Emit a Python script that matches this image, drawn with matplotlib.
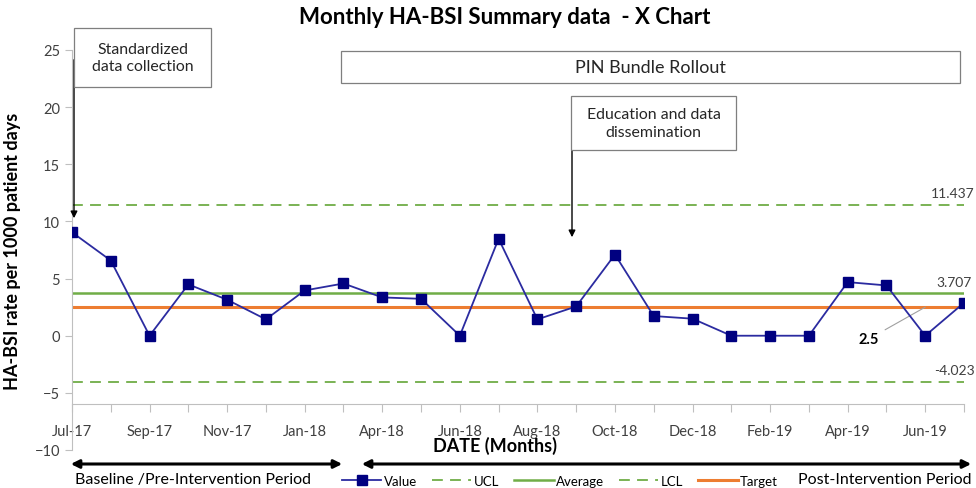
import matplotlib
matplotlib.use("Agg")
import matplotlib.pyplot as plt
import matplotlib.transforms as mtransforms
from matplotlib.patches import Rectangle, FancyArrowPatch

plt.rcParams['font.family'] = ['Lato', 'DejaVu Sans']

# data
months = ['Jul-17', 'Aug-17', 'Sep-17', 'Oct-17', 'Nov-17', 'Dec-17', 'Jan-18', 'Feb-18',
          'Apr-18', 'May-18', 'Jun-18', 'Jul-18', 'Aug-18', 'Sep-18', 'Oct-18', 'Nov-18',
          'Dec-18', 'Jan-19', 'Feb-19', 'Mar-19', 'Apr-19', 'May-19', 'Jun-19', 'Jul-19']
values = [9.05, 6.58, 0.0, 4.49, 3.15, 1.43, 3.96, 4.57,
          3.35, 3.23, 0.0, 8.48, 1.43, 2.56, 7.1, 1.72,
          1.49, 0.0, 0.0, 0.0, 4.69, 4.4, 0.0, 2.88]
ucl = 11.437
average = 3.707
lcl = -4.023
target = 2.5

W, H = 976, 489
fig = plt.figure(figsize=(W / 100, H / 100), dpi=100)

def fx(x):
    return x / W

def fy(y):
    return 1 - y / H

ax = fig.add_axes([fx(72), fy(451), fx(964) - fx(72), fy(51) - fy(451)])

x = list(range(len(months)))
green = '#70AD47'
orange = '#ED7D31'

ax.plot(x, [ucl] * len(x), color=green, lw=1.3, ls=(0, (6, 4)), label='UCL')
ax.plot(x, [average] * len(x), color=green, lw=1.8, label='Average')
ax.plot(x, [lcl] * len(x), color=green, lw=1.3, ls=(0, (6, 4)), label='LCL')
ax.plot(x, [target] * len(x), color=orange, lw=2.2, label='Target')
ax.plot(x, values, color='#2B2BA0', lw=1.3, marker='s', ms=7.5,
        mfc='#000080', mec='#000080', label='Value', zorder=5)

ax.set_xlim(0, len(months) - 1)
ax.set_ylim(-10, 25)
ax.set_yticks(range(-10, 26, 5))
ax.set_xticks(x)
ax.set_xticklabels([m if i % 2 == 0 else '' for i, m in enumerate(months)])

for s in ['top', 'right']:
    ax.spines[s].set_visible(False)
ax.spines['bottom'].set_position(('data', -6))
ax.spines['bottom'].set_color('#BFBFBF')
ax.spines['left'].set_color('#BFBFBF')
ax.tick_params(axis='x', colors='#BFBFBF', labelcolor='#404040', length=6, pad=8, labelsize=10.5)
ax.tick_params(axis='y', colors='#BFBFBF', labelcolor='#404040', length=5, labelsize=10.5)
ax.set_ylabel('HA-BSI rate per 1000 patient days', fontsize=13, fontweight='bold', labelpad=10)

# line value labels, right edge near the figure edge
tr = mtransforms.blended_transform_factory(fig.transFigure, ax.transData)
ax.text(fx(974), ucl + 0.5, '11.437', ha='right', va='bottom', fontsize=10, color='#404040', transform=tr)
ax.text(fx(972), average + 0.5, '3.707', ha='right', va='bottom', fontsize=10, color='#404040', transform=tr)
ax.text(fx(975), lcl + 0.5, '-4.023', ha='right', va='bottom', fontsize=10, color='#404040', transform=tr)
ax.annotate('2.5', xy=(22.0, target), xytext=(20.8, -0.3), fontsize=10.5, fontweight='bold',
            ha='right', va='center',
            arrowprops=dict(arrowstyle='-', color='#A0A0A0', lw=0.8, shrinkA=3, shrinkB=0))

fig.text(fx(505), fy(18), 'Monthly HA-BSI Summary data  - X Chart', ha='center', va='center',
         fontsize=16, fontweight='bold')
fig.text(fx(495), fy(446), 'DATE (Months)', ha='center', va='center', fontsize=13, fontweight='bold')

# boxes
def box(x0, y0, x1, y1, txt, size):
    fig.patches.append(Rectangle((fx(x0), fy(y1)), fx(x1) - fx(x0), fy(y0) - fy(y1),
                                 transform=fig.transFigure, fill=True, fc='white',
                                 ec='#7F7F7F', lw=0.9, zorder=3))
    fig.text(fx((x0 + x1) / 2), fy((y0 + y1) / 2), txt, ha='center', va='center',
             fontsize=size, color='#262626', linespacing=1.35, zorder=4)

box(74, 29, 211, 88, 'Standardized\ndata collection', 11.4)
box(341, 52, 960, 84, 'PIN Bundle Rollout', 13)
box(571, 97, 736, 151, 'Education and data\ndissemination', 11.4)

# arrows from boxes
fig.patches.append(FancyArrowPatch((fx(74), fy(58)), (fx(74), fy(222)), transform=fig.transFigure,
                                   arrowstyle='-|>', mutation_scale=10, color='black', lw=1.0))
fig.patches.append(FancyArrowPatch((fx(572), fy(125)), (fx(572), fy(241)), transform=fig.transFigure,
                                   arrowstyle='-|>', mutation_scale=10, color='black', lw=1.0))

# period arrows
fig.patches.append(FancyArrowPatch((fx(68), fy(465)), (fx(345), fy(465)), transform=fig.transFigure,
                                   arrowstyle='<|-|>', mutation_scale=12, color='black', lw=2.2))
fig.patches.append(FancyArrowPatch((fx(359), fy(465)), (fx(974), fy(465)), transform=fig.transFigure,
                                   arrowstyle='<|-|>', mutation_scale=12, color='black', lw=2.2))
fig.text(fx(75), fy(480), 'Baseline /Pre-Intervention Period', ha='left', va='center', fontsize=11.5)
fig.text(fx(972), fy(480), 'Post-Intervention Period', ha='right', va='center', fontsize=11.5)

handles, labels = ax.get_legend_handles_labels()
order = [4, 0, 1, 2, 3]
fig.legend([handles[i] for i in order], [labels[i] for i in order], loc='center',
           bbox_to_anchor=(fx(560), fy(482)), ncol=5, frameon=False, fontsize=9.5,
           handlelength=3, columnspacing=1.1, handletextpad=0.2, markerscale=0.9)

fig.savefig('out.png', dpi=100)
